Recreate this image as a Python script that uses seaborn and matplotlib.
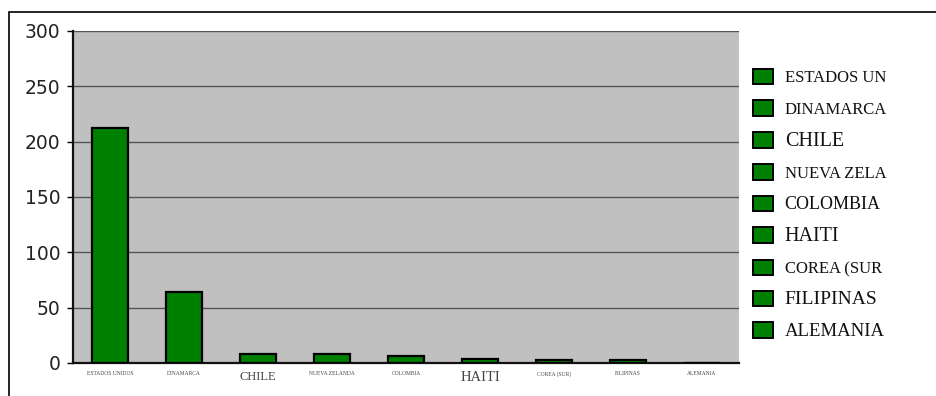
import matplotlib
matplotlib.use("Agg")
import matplotlib.pyplot as plt
import seaborn as sns
import pandas as pd
from matplotlib.patches import Rectangle, Patch

paises = ["ESTADOS UNIDOS", "DINAMARCA", "CHILE", "NUEVA ZELANDA", "COLOMBIA",
          "HAITI", "COREA (SUR)", "FILIPINAS", "ALEMANIA"]
valores = [212, 64, 8, 8, 6, 4, 3, 3, 0]
leyenda = ["ESTADOS UN", "DINAMARCA", "CHILE", "NUEVA ZELA", "COLOMBIA",
           "HAITI", "COREA (SUR", "FILIPINAS", "ALEMANIA"]
yticks = [0, 50, 100, 150, 200, 250, 300]

W, H = 937, 396
DPI = 100
verde = "#008000"

df = pd.DataFrame({"pais": paises, "valor": valores})

sns.set_style("white")
fig = plt.figure(figsize=(W / DPI, H / DPI), dpi=DPI)
ax = fig.add_axes([73 / W, 1 - 363 / H, (739 - 73) / W, (363 - 31) / H])

sns.barplot(data=df, x="pais", y="valor", hue="pais", palette=[verde] * len(paises),
            dodge=False, width=0.48, edgecolor="black", linewidth=1.6,
            saturation=1, legend=False, ax=ax, zorder=3)

ax.set_facecolor("#c0c0c0")
ax.set_ylim(0, 300)
ax.set_xlim(-0.5, len(paises) - 0.5)
ax.set_yticks(yticks)
ax.set_yticklabels([str(t) for t in yticks], fontsize=13.5, color="#222222",
                   family="DejaVu Sans")
ax.yaxis.grid(True, color="#555555", linewidth=1.0, zorder=0)
ax.set_axisbelow(True)
ax.tick_params(axis="y", length=4, width=1, color="black", pad=5, left=True)
ax.tick_params(axis="x", length=0, pad=6)
ax.set_xlabel("")
ax.set_ylabel("")
for s in ["top", "right"]:
    ax.spines[s].set_visible(False)
for s in ["left", "bottom"]:
    ax.spines[s].set_color("#111111")
    ax.spines[s].set_linewidth(1.6)

# x labels: most rendered very small, a few larger
tamanos = {"CHILE": 9, "HAITI": 10.5}
ax.set_xticks(range(len(paises)))
ax.set_xticklabels(paises, family="Liberation Serif", color="#444444")
for lbl, p in zip(ax.get_xticklabels(), paises):
    lbl.set_fontsize(tamanos.get(p, 4))
    lbl.set_verticalalignment("top")

# legend on the right, one square per country
tam_leg = {"CHILE": 14.5, "HAITI": 14.5, "FILIPINAS": 14, "ALEMANIA": 13.5,
           "COLOMBIA": 13}
handles = [Patch(facecolor=verde, edgecolor="black", linewidth=1.4) for _ in leyenda]
leg = fig.legend(handles, leyenda, loc="upper left",
                 bbox_to_anchor=(738 / W, 1 - 54 / H), frameon=False,
                 handlelength=1.2, handleheight=1.05, handletextpad=0.7,
                 labelspacing=0.83, prop={"family": "Liberation Serif", "size": 12})
for txt, name in zip(leg.get_texts(), leyenda):
    txt.set_fontsize(tam_leg.get(name, 12))
    txt.set_color("#111111")

# outer frame
fig.add_artist(Rectangle((9.5 / W, -0.05), (W + 20) / W, 1.05 - 12 / H,
                         transform=fig.transFigure, fill=False,
                         edgecolor="black", linewidth=1.2))

fig.savefig("out.png", dpi=DPI)
